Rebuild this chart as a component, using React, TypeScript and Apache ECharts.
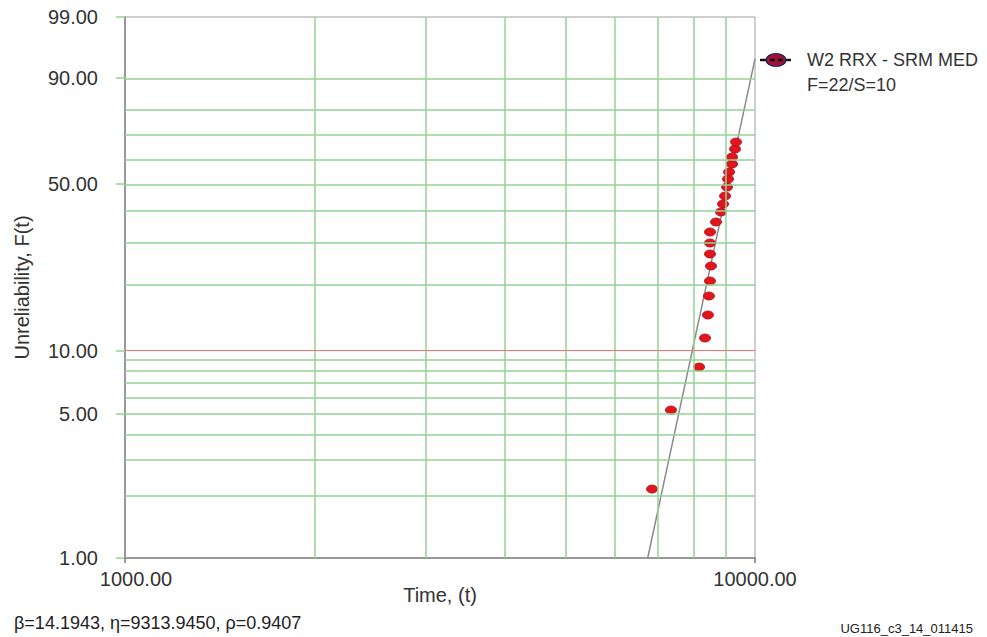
import React, { useEffect, useRef } from 'react';
import * as echarts from 'echarts';

// Failure data (time, unreliability %)
const failureTimes = [6864, 7356, 8151, 8329, 8420, 8451, 8483, 8514, 8483, 8483, 8483, 8672, 8831, 8897, 8963, 9029, 9062, 9095, 9195, 9195, 9296, 9330];
const unreliability = [2.17, 5.23, 8.37, 11.43, 14.58, 17.75, 20.67, 24.0, 26.98, 29.97, 33.19, 36.35, 39.69, 42.52, 45.47, 48.92, 52.06, 54.86, 58.15, 61.04, 64.39, 67.29];

// Fitted Weibull line endpoints
const fitTimes = [6756, 10000];
const fitUnrel = [1.0, 94.3];

// Axis ticks / grid
const yTickLabels = [1, 5, 10, 50, 90, 99];
const yGridGreen = [2, 3, 4, 5, 6, 7, 8, 9, 20, 30, 40, 50, 60, 70, 80, 90];
const yGridRed = [10];
const xGrid = [2000, 3000, 4000, 5000, 6000, 7000, 8000, 9000];

const seriesName = 'W2 RRX - SRM MED';
const seriesSub = 'F=22/S=10';
const paramText = 'β=14.1943, η=9313.9450, ρ=0.9407';
const figId = 'UG116_c3_14_011415';

const w = (p: number) => Math.log(-Math.log(1 - p / 100));
const FONT = '"Liberation Sans", Arial, Helvetica, sans-serif';

export default function App() {
  const ref = useRef<HTMLDivElement>(null);
  useEffect(() => {
    document.body.style.margin = '0';
    const chart = echarts.init(ref.current!, null, { renderer: 'svg' });
    const green = '#93d393';
    const option: any = {
      animation: false,
      textStyle: { fontFamily: FONT },
      grid: {
        left: 125, right: 232, top: 17, bottom: 79,
        show: true, borderColor: '#a0a0a0', borderWidth: 1,
      },
      xAxis: {
        type: 'log', logBase: 10, min: 1000, max: 10000,
        name: 'Time, (t)', nameLocation: 'middle', nameGap: 27, nameMoveOverlap: false,
        nameTextStyle: { fontSize: 20, color: '#333', fontFamily: FONT },
        axisLine: { onZero: false, lineStyle: { color: '#999', width: 2 } },
        axisTick: { show: true, length: 5, lineStyle: { color: '#777', width: 1.5 } },
        splitLine: { show: false },
        axisLabel: {
          margin: 11, fontSize: 20, color: '#333', fontFamily: FONT,
          formatter: (v: number) => (v <= 1000 ? '{a|' + v.toFixed(2) + '}' : v.toFixed(2)),
          rich: { a: { fontSize: 20, color: '#333', fontFamily: FONT, padding: [0, 0, 0, 22] } },
        },
      },
      yAxis: {
        type: 'value', min: w(1), max: w(99),
        name: 'Unreliability, F(t)', nameLocation: 'middle', nameGap: 93, nameMoveOverlap: false,
        nameTextStyle: { fontSize: 20, color: '#333', fontFamily: FONT },
        axisLine: { show: true, onZero: false, lineStyle: { color: '#999', width: 2 } },
        axisTick: {
          show: true, length: 9, customValues: yTickLabels.map(w),
          lineStyle: { color: green, width: 1.5 },
        },
        splitLine: { show: false },
        axisLabel: {
          margin: 27, fontSize: 20, color: '#333', fontFamily: FONT,
          customValues: yTickLabels.map(w),
          formatter: (v: number) => (100 * (1 - Math.exp(-Math.exp(v)))).toFixed(2),
        },
      },
      series: [
        {
          type: 'line', data: [], z: 1, silent: true,
          markLine: {
            silent: true, symbol: 'none', label: { show: false },
            data: [
              ...xGrid.map((x) => ({ xAxis: x, lineStyle: { color: green, width: 1.5, type: 'solid' } })),
              ...yGridGreen.map((p) => ({ yAxis: w(p), lineStyle: { color: green, width: 1.5, type: 'solid' } })),
              ...yGridRed.map((p) => ({ yAxis: w(p), lineStyle: { color: '#f07575', width: 1.2, type: 'solid' } })),
            ],
          },
        },
        {
          type: 'line', name: 'fit', z: 3, silent: true, symbol: 'none',
          data: fitTimes.map((t, i) => [t, w(fitUnrel[i])]),
          lineStyle: { color: '#8a8a8a', width: 1.5 },
        },
        {
          type: 'scatter', name: seriesName, z: 4,
          symbol: 'circle', symbolSize: [11, 8],
          data: failureTimes.map((t, i) => [t, w(unreliability[i])]),
          itemStyle: { color: '#e3141c', borderColor: '#a8101a', borderWidth: 0.8, opacity: 1 },
        },
      ],
      graphic: [
        {
          type: 'line', shape: { x1: 760, y1: 60, x2: 794, y2: 60 },
          style: { stroke: '#111', lineWidth: 2.5, lineDash: [7, 5] }, z: 10,
        },
        {
          type: 'ellipse', shape: { cx: 776, cy: 60, rx: 10, ry: 6.5 },
          style: { fill: '#9c1237', stroke: '#1a2060', lineWidth: 1.2 }, z: 11,
        },
        {
          type: 'line', shape: { x1: 770, y1: 60, x2: 783, y2: 60 },
          style: { stroke: '#111', lineWidth: 2.5, lineDash: [5, 3] }, z: 12,
        },
        {
          type: 'text', x: 807, y: 60,
          style: { text: seriesName, font: '18px ' + FONT, fill: '#333', textVerticalAlign: 'middle' },
        },
        {
          type: 'text', x: 807, y: 85,
          style: { text: seriesSub, font: '18px ' + FONT, fill: '#333', textVerticalAlign: 'middle' },
        },
        {
          type: 'text', x: 14, y: 623,
          style: { text: paramText, font: '18px ' + FONT, fill: '#222', textVerticalAlign: 'middle' },
        },
        {
          type: 'text', x: 973, y: 628,
          style: { text: figId, font: '13px ' + FONT, fill: '#222', textAlign: 'right', textVerticalAlign: 'middle' },
        },
      ],
    };
    chart.setOption(option);
    return () => chart.dispose();
  }, []);
  return <div ref={ref} style={{ width: 987, height: 637 }} />;
}
